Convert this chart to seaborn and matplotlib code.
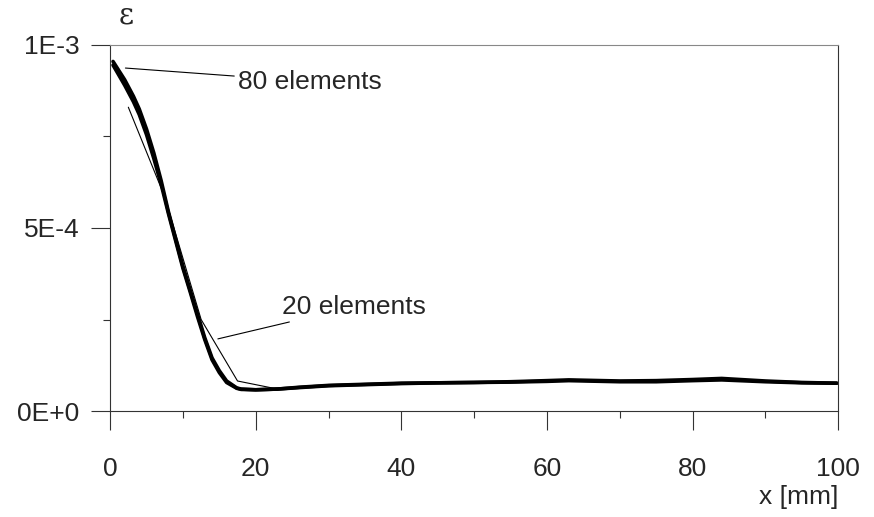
import numpy as np
import pandas as pd
import seaborn as sns
import matplotlib.pyplot as plt
from matplotlib.ticker import FixedLocator, MultipleLocator

# 80 elements (fine mesh)
x_80 = [0.4, 2, 3.2, 4, 5, 6, 7, 8, 9, 10, 11, 12, 13, 14, 15, 16, 17.4, 18, 20, 23, 26,
        30, 35, 40, 45, 50, 55, 60, 63, 70, 75, 80, 84, 90, 95, 99.8]
eps_80 = [0.955, 0.905, 0.86, 0.825, 0.77, 0.705, 0.63, 0.545, 0.47, 0.395, 0.33, 0.265,
          0.2, 0.145, 0.11, 0.082, 0.063, 0.060, 0.058, 0.060, 0.065, 0.070, 0.073, 0.076,
          0.077, 0.078, 0.080, 0.083, 0.085, 0.082, 0.083, 0.086, 0.089, 0.082, 0.078,
          0.076]
# intermediate mesh, part of the thick band
eps_mid = [0.945, 0.89, 0.845, 0.81, 0.755, 0.69, 0.62, 0.54, 0.465, 0.39, 0.325, 0.258,
           0.195, 0.14, 0.105, 0.078, 0.062, 0.059, 0.058, 0.060, 0.064, 0.069, 0.072,
           0.075, 0.077, 0.078, 0.079, 0.081, 0.083, 0.080, 0.080, 0.083, 0.085, 0.080,
           0.077, 0.076]
# 20 elements (coarse mesh)
x_20 = [2.5, 7.5, 12.5, 17.5, 22.5, 27.5, 32.5, 37.5, 42.5, 47.5, 52.5, 57.5, 62.5,
        67.5, 72.5, 77.5, 82.5, 87.5, 92.5, 97.5]
eps_20 = [0.83, 0.585, 0.25, 0.082, 0.062, 0.067, 0.071, 0.075, 0.077, 0.078, 0.079,
          0.081, 0.084, 0.082, 0.081, 0.083, 0.087, 0.084, 0.079, 0.076]

y_ticks = [0, 5e-4, 1e-3]
y_labels = ["0E+0", "5E-4", "1E-3"]
x_ticks = [0, 20, 40, 60, 80, 100]

df80 = pd.DataFrame({"x": x_80, "eps": np.array(eps_80) * 1e-3})
dfmid = pd.DataFrame({"x": x_80, "eps": np.array(eps_mid) * 1e-3})
df20 = pd.DataFrame({"x": x_20, "eps": np.array(eps_20) * 1e-3})

sns.set_style("ticks")
plt.rcParams['font.family'] = ['Liberation Sans', 'DejaVu Sans']

fig = plt.figure(figsize=(8.74, 5.17), dpi=100)
ax = fig.add_axes([0.126, 0.205, 0.833, 0.708])

sns.lineplot(data=dfmid, x="x", y="eps", ax=ax, color="black", lw=2.6, sort=False)
sns.lineplot(data=df80, x="x", y="eps", ax=ax, color="black", lw=2.6, sort=False)
sns.lineplot(data=df20, x="x", y="eps", ax=ax, color="black", lw=0.8, sort=False)

ax.set_xlim(0, 100)
ax.set_ylim(0, 1e-3)
ax.xaxis.set_major_locator(FixedLocator(x_ticks))
ax.xaxis.set_minor_locator(MultipleLocator(10))
ax.yaxis.set_major_locator(FixedLocator(y_ticks))
ax.set_yticklabels(y_labels)
ax.yaxis.set_minor_locator(FixedLocator([2.5e-4, 7.5e-4]))
ax.tick_params(axis="both", which="major", direction="out", length=14, width=0.8,
               labelsize=19, color="#333333")
ax.tick_params(axis="x", which="major", pad=19)
ax.tick_params(axis="y", which="major", pad=8)
ax.tick_params(axis="both", which="minor", direction="out", length=5, width=0.8,
               color="#333333")
ax.set_xlabel("")
ax.set_ylabel("")

for side in ["left", "bottom", "right"]:
    ax.spines[side].set_linewidth(0.8)
    ax.spines[side].set_color("#333333")
ax.spines["top"].set_linewidth(0.8)
ax.spines["top"].set_color("#888888")

ax.annotate("80 elements", xy=(2.1, 0.937e-3), xytext=(17.5, 0.9e-3),
            fontsize=19, va="center", ha="left",
            arrowprops=dict(arrowstyle="-", lw=0.8, color="black", shrinkA=0, shrinkB=0))
ax.annotate("20 elements", xy=(14.8, 0.197e-3), xytext=(23.6, 0.285e-3),
            fontsize=19, va="center", ha="left",
            arrowprops=dict(arrowstyle="-", lw=0.8, color="black", shrinkA=0, shrinkB=0))

ax.text(0.011, 1.08, "ε", transform=ax.transAxes, fontsize=21, ha="left", va="center",
        family=["DejaVu Serif"])
ax.text(1.0, -0.235, "x [mm]", transform=ax.transAxes, fontsize=19, ha="right", va="center")

fig.savefig("out.png", dpi=100)
